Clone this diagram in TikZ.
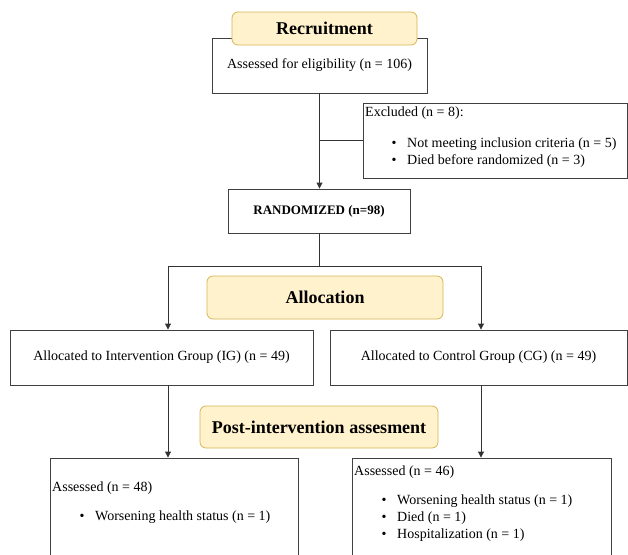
\documentclass[tikz,border=0pt]{standalone}
\usepackage{fontspec}
\setmainfont{Liberation Serif}
\usetikzlibrary{arrows.meta}
\definecolor{notefill}{HTML}{FFF2CC}
\definecolor{notedraw}{HTML}{D6B656}
\begin{document}
\begin{tikzpicture}[x=1pt,y=-1pt,
  box/.style={draw=black!75, line width=0.9pt, fill=white, inner sep=0pt},
  stage/.style={draw=notedraw, fill=notefill, rounded corners=6pt, line width=0.8pt,
    inner sep=0pt, font=\fontsize{18}{20}\selectfont\bfseries},
  txt/.style={anchor=west, inner sep=0pt, font=\fontsize{14}{16}\selectfont},
  dot/.style={inner sep=0pt, font=\fontsize{14}{16}\selectfont},
  link/.style={draw=black!80, line width=0.9pt},
  arr/.style={link, -{Triangle[length=6pt,width=6pt]}}]
\useasboundingbox (0,0) rectangle (628,554);
\clip (0,0) rectangle (628,554);

% recruitment
\node[box, minimum width=215pt, minimum height=55pt, font=\fontsize{14}{16}\selectfont] (assess) at (319.5,65.5) {Assessed for eligibility (n = 106)};
\node[stage, minimum width=185pt, minimum height=33pt] (recruit) at (324.5,28.5) {Recruitment};
\node[box, minimum width=264pt, minimum height=75pt] (excl) at (495,140.5) {};
\node[txt] (exclhead) at (365,113) {Excluded (n = 8):};
\node[dot] (dotA) at (394,144) {\textbullet};
\node[txt] (exclA) at (407,144) {Not meeting inclusion criteria (n = 5)};
\node[dot] (dotB) at (394,161) {\textbullet};
\node[txt] (exclB) at (407,161) {Died before randomized (n = 3)};
\node[box, minimum width=182pt, minimum height=44pt, font=\fontsize{13}{15}\selectfont\bfseries] (rand) at (319,211) {RANDOMIZED (n=98)};

% allocation
\coordinate (split) at (rand.south |- 0,266);
\coordinate (splitL) at (168,266);
\coordinate (splitR) at (481,266);
\node[stage, minimum width=236pt, minimum height=43pt] (alloc) at (325,297.5) {Allocation};
\node[box, minimum width=303pt, minimum height=55pt, font=\fontsize{14}{16}\selectfont] (ig) at (161.5,357.5) {Allocated to Intervention Group (IG) (n = 49)};
\node[box, minimum width=297pt, minimum height=55pt, font=\fontsize{14}{16}\selectfont] (cg) at (478.5,357.5) {Allocated to Control Group (CG) (n = 49)};

% post-intervention
\node[stage, minimum width=238pt, minimum height=42pt] (post) at (319,427) {Post-intervention assesment};
\node[box, minimum width=248pt, minimum height=142pt] (igout) at (174,529) {};
\node[txt] (ighead) at (52,488) {Assessed (n = 48)};
\node[dot] (dotC) at (82,517) {\textbullet};
\node[txt] (igA) at (95,517) {Worsening health status (n = 1)};
\node[box, minimum width=259pt, minimum height=142pt] (cgout) at (481.5,529) {};
\node[txt] (cghead) at (354,472) {Assessed (n = 46)};
\node[dot] (dotD) at (384,501) {\textbullet};
\node[txt] (cgA) at (397,501) {Worsening health status (n = 1)};
\node[dot] (dotE) at (384,518) {\textbullet};
\node[txt] (cgB) at (397,518) {Died (n = 1)};
\node[dot] (dotF) at (384,535) {\textbullet};
\node[txt] (cgC) at (397,535) {Hospitalization (n = 1)};

% connectors
\draw[arr] (assess.south) -- (assess.south |- rand.north);
\draw[link] (assess.south |- excl.west) -- (excl.west);
\draw[link] (rand.south) -- (split);
\draw[arr] (split) -- (splitL) -- (splitL |- ig.north);
\draw[arr] (split) -- (splitR) -- (splitR |- cg.north);
\draw[arr] (splitL |- ig.south) -- (splitL |- igout.north);
\draw[arr] (splitR |- cg.south) -- (splitR |- cgout.north);
\end{tikzpicture}
\end{document}
